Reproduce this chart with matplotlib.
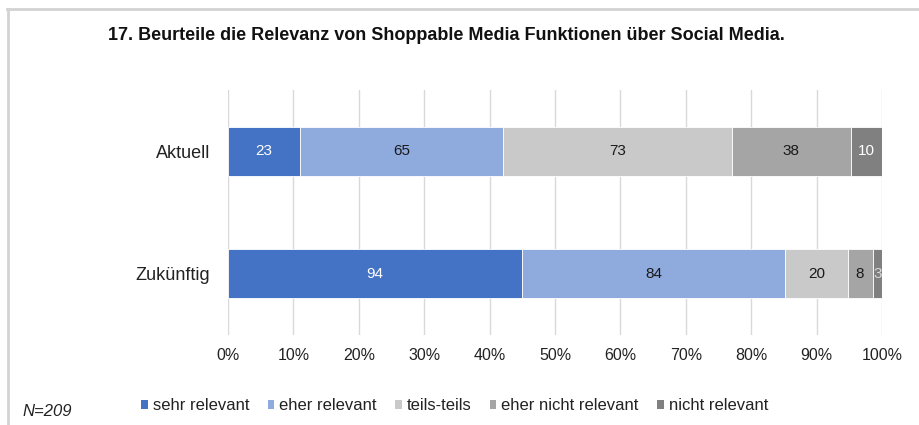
import matplotlib
matplotlib.use("Agg")
import matplotlib.pyplot as plt
from matplotlib.lines import Line2D
from matplotlib.patches import Patch
import numpy as np

plt.rcParams['font.family'] = ['Liberation Sans', 'DejaVu Sans']

title = "17. Beurteile die Relevanz von Shoppable Media Funktionen über Social Media."
groups = ["Aktuell", "Zukünftig"]
answers = ["sehr relevant", "eher relevant", "teils-teils", "eher nicht relevant", "nicht relevant"]
counts = {
    "Aktuell":   [23, 65, 73, 38, 10],
    "Zukünftig": [94, 84, 20, 8, 3],
}
tick_labels = ["0%", "10%", "20%", "30%", "40%", "50%", "60%", "70%", "80%", "90%", "100%"]
sample_note = "N=209"

colors = ["#4472C4", "#8FAADC", "#C9C9C9", "#A5A5A5", "#808080"]
label_colors = ["white", "#1a1a1a", "#1a1a1a", "#1a1a1a", "white"]
label_colors_small = {("Zukünftig", 4): "#d8d8d8"}

fig = plt.figure(figsize=(9.2, 4.25), dpi=100)
W, H = 920, 425
ax = fig.add_axes([228 / W, 1 - 335 / H, 654 / W, 245 / H])

y = np.arange(len(groups))
left = np.zeros(len(groups))
for j, ans in enumerate(answers):
    vals = np.array([counts[g][j] for g in groups], dtype=float)
    totals = np.array([sum(counts[g]) for g in groups], dtype=float)
    widths = vals / totals * 100
    bars = ax.barh(y, widths, left=left, height=0.4, color=colors[j],
                   edgecolor="white", linewidth=0.6, zorder=3, label=ans)
    texts = ax.bar_label(bars, labels=[str(int(v)) for v in vals],
                         label_type="center", fontsize=11, zorder=4)
    for i, t in enumerate(texts):
        t.set_color(label_colors_small.get((groups[i], j), label_colors[j]))
    left += widths

ax.set_xlim(0, 100)
ax.set_ylim(len(groups) - 0.5, -0.5)
ax.set_xticks(np.arange(0, 101, 10))
ax.set_xticklabels(tick_labels, fontsize=11.5, color="#222222")
ax.set_yticks(y)
ax.set_yticklabels(groups, fontsize=13, color="#222222")
ax.tick_params(axis="both", length=0)
ax.tick_params(axis="x", pad=9)
ax.tick_params(axis="y", pad=13)
ax.grid(axis="x", color="#D9D9D9", linewidth=1, zorder=0)
for s in ax.spines.values():
    s.set_visible(False)

fig.text(108 / W, 1 - 35 / H, title, fontsize=13, fontweight="bold",
         ha="left", va="center", color="#111111")

handles = [Patch(facecolor=c, edgecolor="none") for c in colors]
fig.legend(handles, answers, loc="center left", bbox_to_anchor=(141 / W, 1 - 406 / H),
           ncol=5, frameon=False, fontsize=12, handlelength=0.4, handleheight=0.4,
           handletextpad=0.3, columnspacing=1.1, borderaxespad=0, borderpad=0,
           labelcolor="#222222")

fig.text(22 / W, 1 - 411 / H, sample_note, fontsize=12, style="italic",
         ha="left", va="center", color="#222222")

# light frame along the top and left edge
fig.add_artist(Line2D([7 / W, 1], [1 - 9 / H, 1 - 9 / H], color="#D3D3D3", linewidth=2))
fig.add_artist(Line2D([8 / W, 8 / W], [0, 1 - 9 / H], color="#D3D3D3", linewidth=2))

fig.savefig("out.png", dpi=100, facecolor="white")
